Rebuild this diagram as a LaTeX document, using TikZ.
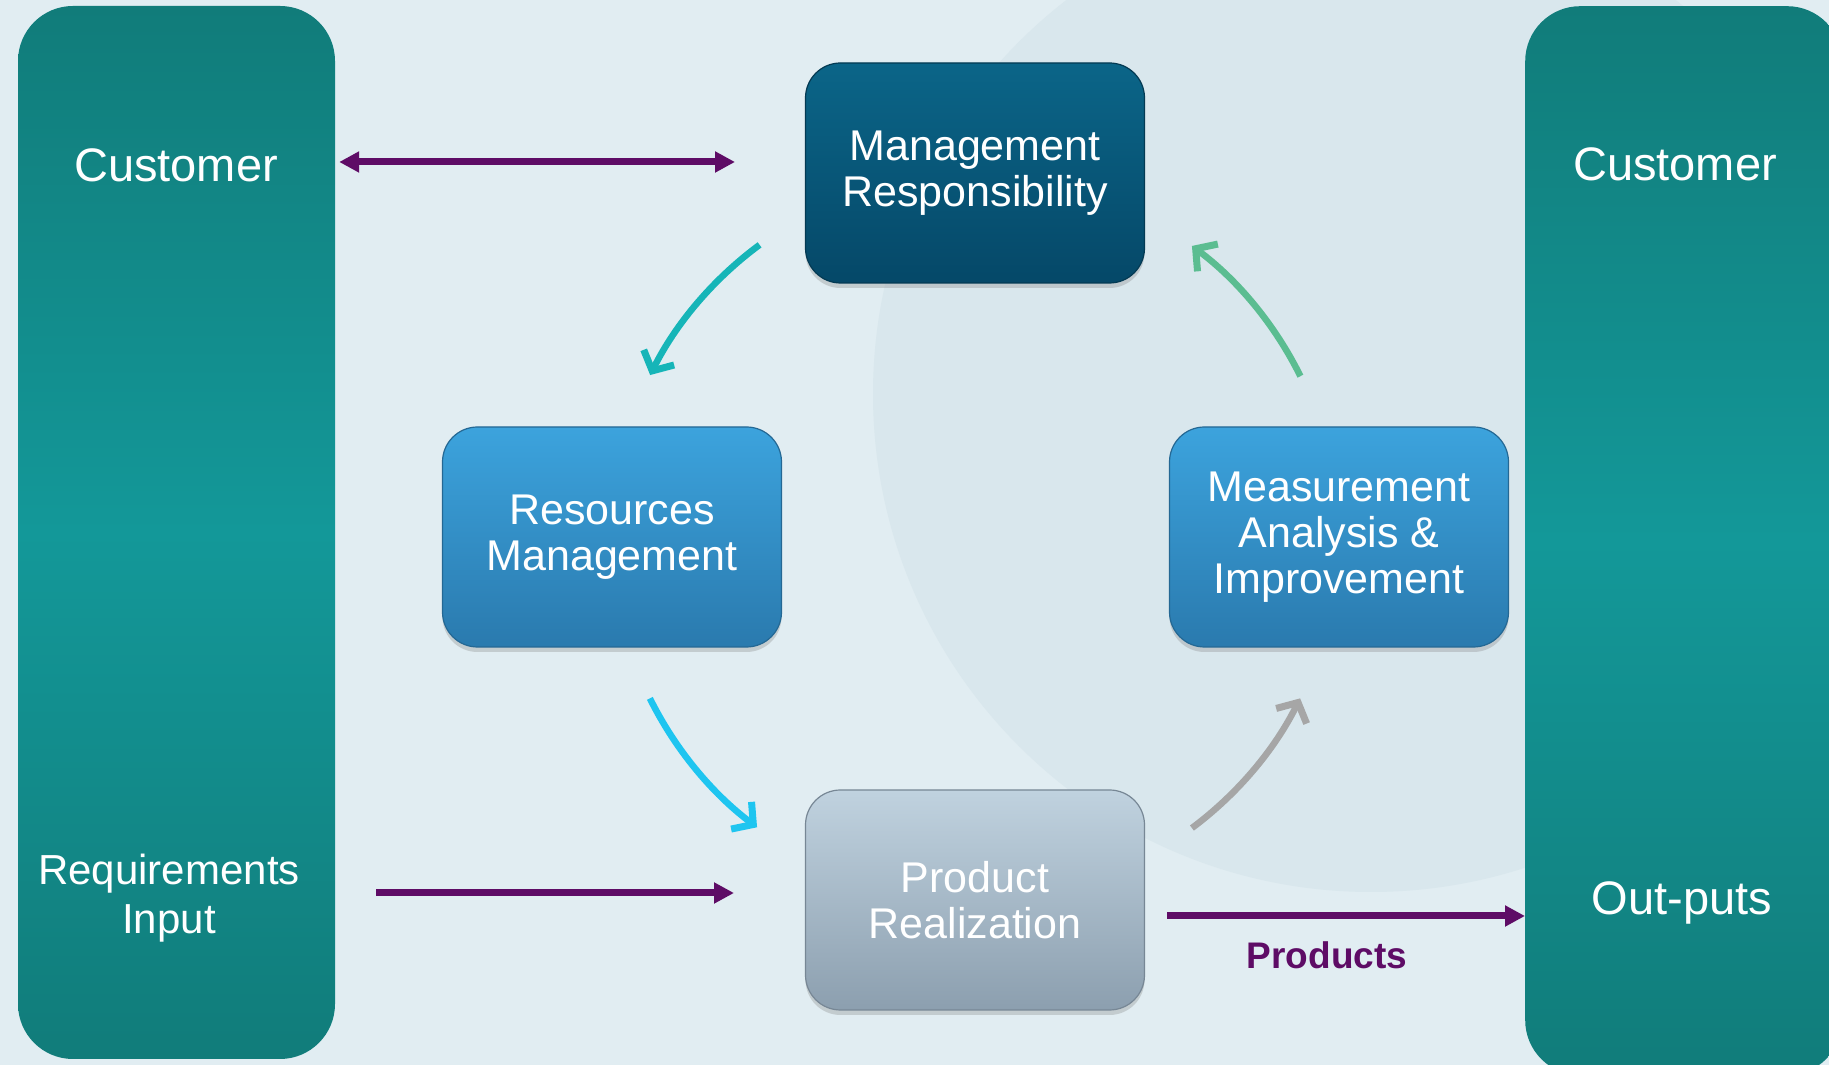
\documentclass[tikz,border=0pt]{standalone}
\usepackage{fontspec}
\setmainfont{Liberation Sans}
\usetikzlibrary{arrows.meta,positioning,shadows}

\definecolor{bgblue}{RGB}{225,237,242}
\definecolor{ringblue}{RGB}{217,231,237}
\definecolor{panelEdge}{RGB}{17,124,122}
\definecolor{panelMid}{RGB}{19,152,153}
\definecolor{flowpurple}{RGB}{94,12,102}
\definecolor{mgmtTop}{RGB}{11,101,136}
\definecolor{mgmtBot}{RGB}{5,72,104}
\definecolor{resTop}{RGB}{60,163,221}
\definecolor{resBot}{RGB}{42,122,174}
\definecolor{prodTop}{RGB}{192,210,223}
\definecolor{prodBot}{RGB}{140,159,175}
\definecolor{arcTeal}{RGB}{22,181,184}
\definecolor{arcCyan}{RGB}{30,197,240}
\definecolor{arcGray}{RGB}{166,166,166}
\definecolor{arcGreen}{RGB}{91,189,145}

\begin{document}
\begin{tikzpicture}[x=1pt,y=1pt,>={Triangle[length=20pt,width=20pt]},
  box/.style={rounded corners=35pt,minimum width=339pt,minimum height=220pt,
    align=center,text=white,font=\fontsize{43}{46}\selectfont,line width=1.2pt,
    drop shadow={shadow xshift=0pt,shadow yshift=-5pt,opacity=0.3}},
  panel/.style={rounded corners=55pt,minimum width=317pt,
    top color=panelEdge,bottom color=panelEdge,middle color=panelMid},
  side text/.style={text=white,font=\fontsize{47}{54}\selectfont,inner sep=0pt,align=center},
  flow/.style={line width=7pt,draw=flowpurple,->},
  cycle arrow/.style={line width=6.5pt,-{Straight Barb[length=15pt,width=34pt,line width=7pt]}}]

  \useasboundingbox (0,0) rectangle (1829,1065);
  \fill[bgblue] (0,0) rectangle (1829,1065);
  \fill[ringblue] (1371,671) circle[radius=498];

  % side panels
  \node[panel,minimum height=1053pt] (leftpanel) at (176.5,532.5) {};
  \node[panel,minimum height=1069pt,anchor=north west] (rightpanel) at (1525,1059) {};

  % the four process boxes
  \node[box,top color=mgmtTop,bottom color=mgmtBot,draw=mgmtBot!80!black] (mgmt) at (975,892) {Management\\Responsibility};
  \node[box,on grid,top color=resTop,bottom color=resBot,draw=resBot!85!black,below left=364pt and 363pt of mgmt] (resources) {Resources\\Management};
  \node[box,on grid,top color=resTop,bottom color=resBot,draw=resBot!85!black,below right=364pt and 364pt of mgmt] (measure) {Measurement\\Analysis \&\\Improvement};
  \node[box,on grid,top color=prodTop,bottom color=prodBot,draw=prodBot!85!black,below=727pt of mgmt] (product) {Product\\Realization};

  \coordinate (hub) at (mgmt |- resources);

  % cycle arrows
  \draw[cycle arrow,draw=arcTeal] ([shift={(126.4:363)}]hub) arc[start angle=126.4,end angle=153.5,radius=363];
  \draw[cycle arrow,draw=arcCyan] ([shift={(206.4:363)}]hub) arc[start angle=206.4,end angle=233.1,radius=363];
  \draw[cycle arrow,draw=arcGray] ([shift={(306.7:363)}]hub) arc[start angle=306.7,end angle=333.6,radius=363];
  \draw[cycle arrow,draw=arcGreen] ([shift={(26.3:363)}]hub) arc[start angle=26.3,end angle=53.3,radius=363];

  % panel texts
  \node[side text,anchor=base] (custL) at (176,883) {Customer};
  \node[side text,font=\fontsize{42}{49}\selectfont] (reqin) at (169,167) {Requirements\\Input};
  \node[side text,anchor=base] (custR) at (1675,884) {Customer};
  \node[side text,anchor=base] (outputs) at (1682,150) {Out-puts};

  % purple flows
  \coordinate (custIn) at (735,903);
  \coordinate (reqStart) at (376,172);
  \coordinate (reqEnd) at (734,172);
  \coordinate (prodOut) at (1167,149);
  \draw[flow,<->,shorten <=4pt] (leftpanel.east |- custIn) -- (custIn);
  \draw[flow] (reqStart) -- (reqEnd);
  \draw[flow] (prodOut) -- (rightpanel.west |- prodOut)
    node[pos=0.447,below=22pt,inner sep=0pt,text=flowpurple,font=\fontsize{37}{40}\selectfont\bfseries] (prodlabel) {Products};

\end{tikzpicture}
\end{document}
